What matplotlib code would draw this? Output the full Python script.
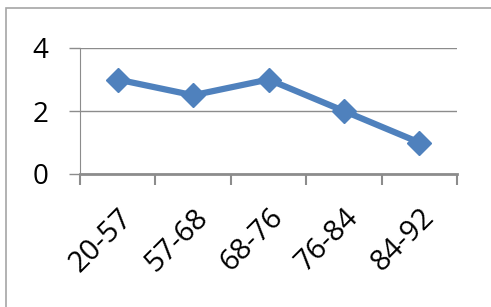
import matplotlib.pyplot as plt
from matplotlib.patches import Rectangle

categories = ["20-57", "57-68", "68-76", "76-84", "84-92"]
values = [3, 2.5, 3, 2, 1]
yticks = [0, 2, 4]

plt.rcParams['font.family'] = ['Open Sans', 'DejaVu Sans']

fig = plt.figure(figsize=(4.91, 3.07), dpi=100)
ax = fig.add_axes([80 / 491, 1 - 174 / 307, 377 / 491, 126 / 307])

# outer chart border, cut off at right and bottom like the screenshot
fig.patches.append(Rectangle((6 / 491, -0.1), 1.1, 1 - 8 / 307 + 0.1,
                             transform=fig.transFigure, fill=False,
                             edgecolor="#a6a6a6", linewidth=1.2))

x = list(range(len(categories)))
ax.plot(x, values, color="#4f81bd", linewidth=4.5, marker="D",
        markersize=12, markerfacecolor="#4f81bd", markeredgecolor="#4f81bd")

ax.set_xlim(-0.5, len(categories) - 0.5)
ax.set_ylim(0, 4)
ax.set_yticks(yticks)
ax.set_yticklabels([str(v) for v in yticks], fontsize=20)
ax.yaxis.grid(True, color="#8c8c8c", linewidth=1)
ax.set_axisbelow(True)

# category boundaries as ticks, labels in the middle
ax.set_xticks([i - 0.5 for i in range(len(categories) + 1)])
ax.set_xticklabels([])
ax.set_xticks(x, minor=True)
ax.set_xticklabels(categories, minor=True, rotation=45, ha="right",
                   rotation_mode="anchor", fontsize=21)
ax.tick_params(axis="x", which="major", length=8, color="#8c8c8c", width=1.5)
ax.tick_params(axis="x", which="minor", length=0, pad=21)
ax.tick_params(axis="y", length=8, color="#8c8c8c", width=1, pad=15)

for s in ["top", "right"]:
    ax.spines[s].set_visible(False)
ax.spines["left"].set_color("#8c8c8c")
ax.spines["bottom"].set_color("#8c8c8c")
ax.spines["bottom"].set_linewidth(2)

fig.savefig("out.png", dpi=100)
